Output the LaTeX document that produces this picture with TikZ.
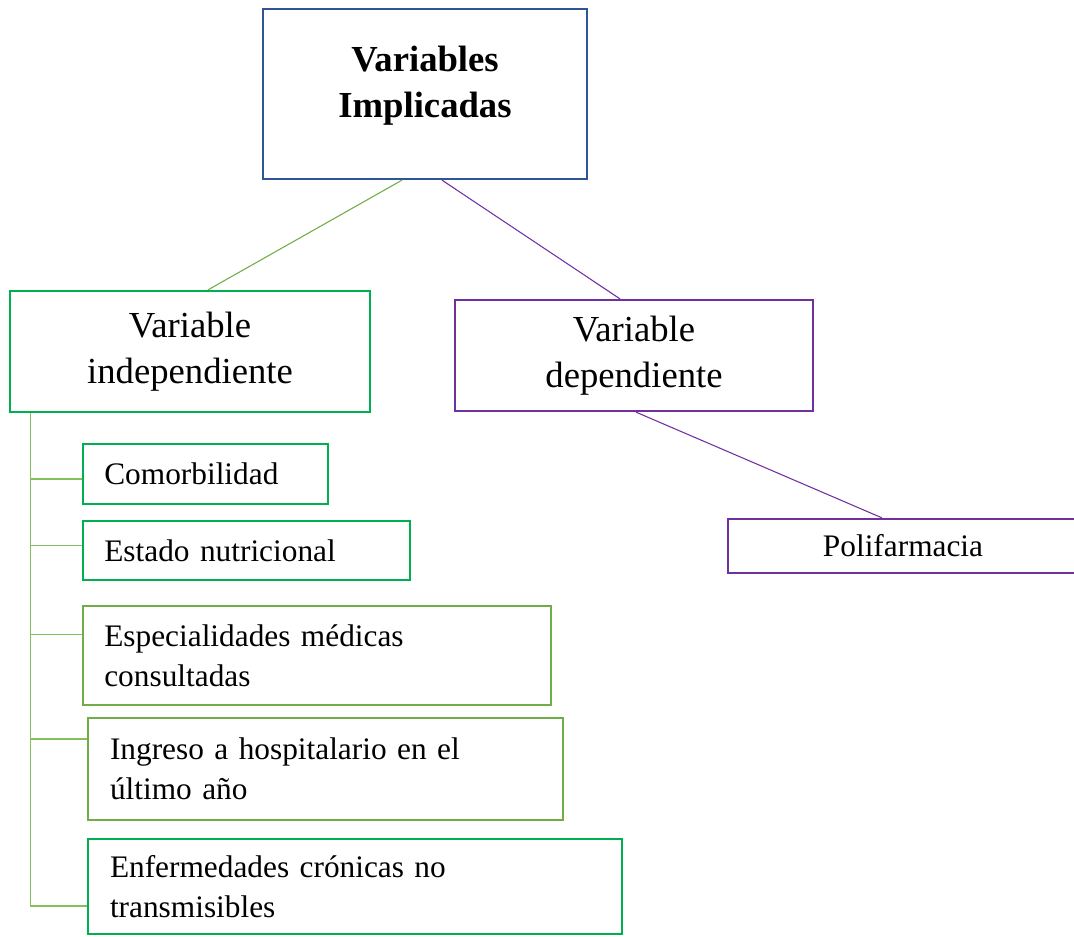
\documentclass[tikz,border=0pt]{standalone}
\usepackage{fontspec}
\setmainfont{Liberation Serif}
\definecolor{cblue}{HTML}{2F5597}
\definecolor{cgreen}{HTML}{00B050}
\definecolor{clgreen}{HTML}{70AD47}
\definecolor{cpurple}{HTML}{7030A0}
\definecolor{ctree}{HTML}{84BF5E}
\begin{document}
\begin{tikzpicture}[x=0.75pt,y=-0.75pt,
  box/.style={draw,line width=1.7pt,rectangle,inner sep=0pt},
  big/.style={font=\fontsize{27.5}{34.5}\selectfont,align=center},
  small/.style={font=\fontsize{23.5}{30}\selectfont,align=left,inner xsep=16pt,inner ysep=0pt,anchor=center},
  gline/.style={draw=clgreen,line width=0.8pt},
  pline/.style={draw=cpurple,line width=0.8pt},
  tline/.style={draw=ctree,line width=0.9pt}]
\useasboundingbox (0,0) rectangle (1074,936);
% top
\node[box,draw=cblue,minimum width=324*0.75pt,minimum height=170*0.75pt] (top) at (425,94) {};
\node[big,font=\fontsize{27.5}{34.5}\selectfont\bfseries] (toptxt) at (425,86) {Variables\\Implicadas};
% level 2
\node[box,draw=cgreen,big,minimum width=360*0.75pt,minimum height=121*0.75pt] (ind) at (190,351.5) {Variable\\independiente};
\node[box,draw=cpurple,big,minimum width=358*0.75pt,minimum height=111*0.75pt] (dep) at (634,355.5) {Variable\\dependiente};
% left children
\node[box,draw=cgreen,small,text width=245*0.75pt-32pt,minimum height=60*0.75pt] (com) at (205.5,474) {Comorbilidad};
\node[box,draw=cgreen,small,text width=327*0.75pt-32pt,minimum height=59*0.75pt] (est) at (246.5,550.5) {Estado nutricional};
\node[box,draw=clgreen,small,text width=468*0.75pt-32pt,minimum height=99*0.75pt] (esp) at (317,655.5) {Especialidades médicas\\consultadas};
\node[box,draw=clgreen,small,text width=475*0.75pt-33pt,inner xsep=16.5pt,minimum height=102*0.75pt] (ing) at (325.5,769) {Ingreso a hospitalario en el\\último año};
\node[box,draw=cgreen,small,text width=534*0.75pt-33pt,inner xsep=16.5pt,minimum height=95*0.75pt] (enf) at (355,886.5) {Enfermedades crónicas no\\transmisibles};
% right child
\node[box,draw=cpurple,font=\fontsize{23.5}{30}\selectfont,minimum width=350*0.75pt,minimum height=54*0.75pt] (pol) at (903,546) {Polifarmacia};
% connectors
\draw[gline] ([xshift=-23*0.75pt]top.south) -- ([xshift=18*0.75pt]ind.north);
\draw[pline] ([xshift=17*0.75pt]top.south) -- ([xshift=-14*0.75pt]dep.north);
\draw[pline] ([xshift=2*0.75pt]dep.south) -- ([xshift=-21*0.75pt]pol.north);
% tree
\coordinate (trunk) at ([xshift=22*0.75pt]ind.south west);
\coordinate (bcom) at ([yshift=-5*0.75pt]com.west);
\coordinate (best) at ([yshift=5*0.75pt]est.west);
\coordinate (besp) at ([yshift=21*0.75pt]esp.west);
\coordinate (bing) at ([yshift=30*0.75pt]ing.west);
\coordinate (benf) at ([yshift=-19.5*0.75pt]enf.west);
\draw[tline] (trunk) |- (benf);
\draw[tline] (trunk |- bcom) -- (bcom);
\draw[tline] (trunk |- best) -- (best);
\draw[tline] (trunk |- besp) -- (besp);
\draw[tline] (trunk |- bing) -- (bing);
\end{tikzpicture}
\end{document}
